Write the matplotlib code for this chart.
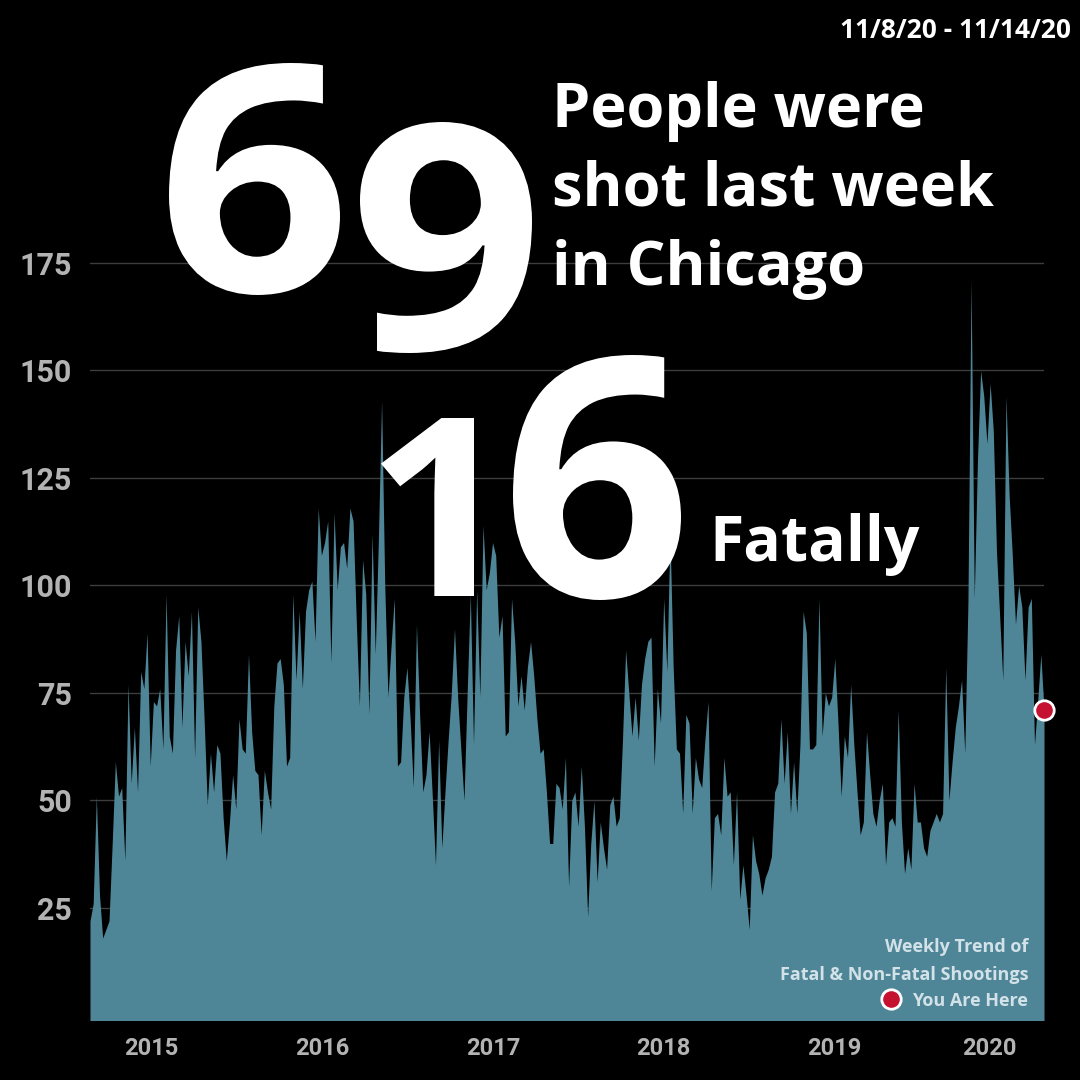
import numpy as np
import matplotlib
matplotlib.use('Agg')
import matplotlib.pyplot as plt
from matplotlib.textpath import TextPath
from matplotlib.patches import PathPatch
from matplotlib.font_manager import FontProperties
from matplotlib.transforms import Affine2D
from matplotlib.lines import Line2D

# weekly count of people shot in Chicago (fatal + non-fatal), oldest first
shot_2015 = [22, 26, 51, 28, 18, 20, 22, 40, 59, 51, 53, 36, 77, 54, 67, 52, 80, 76, 89, 58,
             73, 72, 76, 62, 98, 65, 61, 85, 93, 67, 87, 79, 94, 60, 95, 87, 69, 49, 61, 52,
             63, 61, 46, 36, 45, 56, 48, 69, 62]
shot_2016 = [61, 84, 66, 57, 56, 42, 57, 52, 48, 72, 82, 83, 77, 58, 60, 98, 78, 94, 76, 94,
             99, 101, 87, 118, 107, 110, 115, 82, 117, 99, 109, 110, 104, 118, 115, 92, 72, 106, 98, 70,
             112, 84, 111, 143, 100, 74, 86, 97, 58, 59]
shot_2017 = [74, 81, 69, 53, 91, 70, 52, 56, 66, 51, 35, 64, 39, 52, 64, 75, 90, 74, 62, 50,
             75, 98, 63, 99, 74, 114, 99, 103, 110, 107, 88, 93, 65, 66, 97, 87, 72, 79, 71, 81,
             87, 79, 69, 61, 62, 52, 40, 40, 54, 53, 48]
shot_2018 = [60, 30, 50, 52, 44, 58, 44, 23, 40, 50, 31, 45, 39, 34, 49, 51, 44, 46, 64, 85,
             75, 65, 74, 64, 77, 83, 87, 88, 58, 76, 68, 97, 80, 112, 81, 62, 61, 47, 70, 68,
             47, 60, 55, 53, 64, 73, 29, 46, 47, 42, 60]
shot_2019 = [51, 52, 35, 52, 27, 35, 28, 20, 42, 36, 33, 28, 32, 34, 37, 52, 54, 69, 54, 66,
             47, 59, 47, 63, 94, 89, 62, 62, 63, 97, 65, 75, 72, 74, 83, 68, 51, 65, 60, 77,
             63, 52, 42, 45, 66, 56, 47, 44, 50, 54, 35]
shot_2020 = [45, 46, 44, 71, 45, 33, 39, 34, 54, 45, 45, 39, 37, 43, 45, 47, 45, 47, 81, 50,
             59, 67, 72, 78, 61, 96, 171, 97, 129, 150, 144, 133, 147, 136, 108, 93, 78, 144, 121, 107,
             91, 100, 95, 78, 95, 97, 63, 73, 84, 71]
shootings = shot_2015 + shot_2016 + shot_2017 + shot_2018 + shot_2019 + shot_2020

year_labels = ['2015', '2016', '2017', '2018', '2019', '2020']
year_start_week = [40.7, 95.6, 150.2, 205.1, 259.7]
year_label_week = [19.4, 73.2, 127.2, 180.8, 234.8, 283.7]
y_ticks = [25, 50, 75, 100, 125, 150, 175]

shot_count = '69'
fatal_count = '16'
date_range = '11/8/20 - 11/14/20'
headline = ['People were', 'shot last week', 'in Chicago']

TEAL = '#4e8697'
RED = '#c41230'
W = H = 1080


def fx(px):
    return px / W


def fy(py):
    return 1 - py / H


fig = plt.figure(figsize=(10.8, 10.8), dpi=100, facecolor='black')
ax = fig.add_axes([fx(90), fy(1020), (1044 - 90) / W, (1020 - 155.5) / H])
ax.set_facecolor('black')

weeks = np.arange(len(shootings))
ax.fill_between(weeks, shootings, -5, color=TEAL, lw=0, zorder=2)
ax.plot(weeks[-1], shootings[-1], 'o', ms=14, mfc=RED, mec='white', mew=2,
        clip_on=False, zorder=5)

ax.set_xlim(0, len(shootings) - 1)
ax.set_ylim(-1.05, 200)

axis_font = ['Roboto', 'DejaVu Sans']
ax.set_yticks(y_ticks, labels=[str(v) for v in y_ticks], fontsize=22,
              fontfamily=axis_font, fontweight='bold', color='#b3b3b3')
ax.tick_params(axis='y', length=0, pad=13)
ax.yaxis.grid(True, color='#3d3d3d', lw=1)
ax.set_axisbelow(True)

ax.set_xticks(year_start_week, labels=[''] * len(year_start_week))
ax.tick_params(axis='x', which='major', direction='in', length=5, width=1.5,
               color='#18262b')
ax.set_xticks(year_label_week, labels=year_labels, minor=True, fontsize=17,
              fontfamily=axis_font, fontweight='bold', color='#b3b3b3')
ax.tick_params(axis='x', which='minor', length=0, pad=12)
for s in ax.spines.values():
    s.set_visible(False)

# big numbers, drawn as glyph outlines fitted to their boxes
bold = FontProperties(family='Open Sans', weight='bold')


def big_glyph(ch, left, top, right, bottom):
    path = TextPath((0, 0), ch, size=100, prop=bold)
    ext = path.get_extents()
    t = (Affine2D().translate(-ext.x0, -ext.y0)
         .scale((right - left) / ext.width, (bottom - top) / ext.height)
         .translate(left, H - bottom)
         .scale(1 / W, 1 / H)) + fig.transFigure
    fig.add_artist(PathPatch(path, transform=t, facecolor='white', lw=0, zorder=10))


big_glyph(shot_count[0], 169, 63, 340, 295)
big_glyph(shot_count[1], 360, 122, 532, 353)
big_glyph(fatal_count[0], 381, 418, 474, 596)
big_glyph(fatal_count[1], 513, 355, 681, 600)

for line, base in zip(headline, [127, 206, 285]):
    fig.text(fx(552), fy(base), line, fontproperties=bold, fontsize=44,
             color='white', va='baseline', ha='left', zorder=10)
fig.text(fx(709), fy(561), 'Fatally', fontproperties=bold, fontsize=45,
         color='white', va='baseline', ha='left', zorder=10)
fig.text(fx(1071), fy(38), date_range, fontproperties=bold, fontsize=19,
         color='white', va='baseline', ha='right', zorder=10)

# legend in the bottom right corner
LEG = '#d2e2e8'
fig.text(fx(1028), fy(952), 'Weekly Trend of', fontproperties=bold, fontsize=13,
         color=LEG, va='baseline', ha='right', zorder=10)
fig.text(fx(1028), fy(980), 'Fatal & Non-Fatal Shootings', fontproperties=bold,
         fontsize=13, color=LEG, va='baseline', ha='right', zorder=10)
fig.text(fx(1028), fy(1006), 'You Are Here', fontproperties=bold, fontsize=13,
         color=LEG, va='baseline', ha='right', zorder=10)
fig.add_artist(Line2D([fx(891)], [fy(999)], marker='o', ms=14, mfc=RED,
                      mec='white', mew=2, transform=fig.transFigure, zorder=10))

fig.savefig('out.png', dpi=100, facecolor='black')
